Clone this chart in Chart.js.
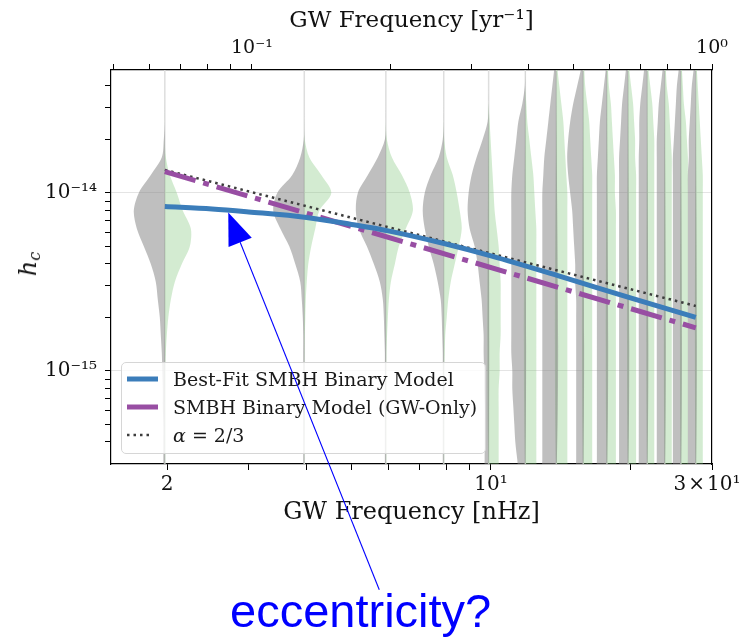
<!DOCTYPE html>
<html>
<head>
<meta charset="utf-8">
<title>Characteristic strain vs GW frequency</title>
<script src="https://cdn.jsdelivr.net/npm/chart.js@4.4.1/dist/chart.umd.min.js"></script>
<style>
  html, body { margin:0; padding:0; background:#fff; }
  #wrap { position:relative; width:739px; height:642px; overflow:hidden; background:#fff; }
  #chart { position:absolute; left:0; top:0; }
  #legend { position:absolute; left:121px; top:362px; width:365px; height:92px; box-sizing:border-box; border:1px solid #d6d6d6; border-radius:5px; background:rgba(255,255,255,0.8); }
  #legend .row { position:absolute; left:0; height:24px; line-height:24px; white-space:nowrap; font-family:'DejaVu Serif', serif; font-size:19px; color:#1a1a1a; }
  #legend svg { position:absolute; left:5px; top:7px; }
  #legend .lbl { position:absolute; left:51px; top:0; }
  #ytitle { position:absolute; left:29px; top:264px; transform: translate(-50%,-50%) rotate(-90deg); font-family:'DejaVu Serif', serif; font-style:italic; font-size:24px; color:#111; white-space:nowrap; }
  #ytitle sub { font-size:16px; vertical-align:-4px; }
  #annot { position:absolute; left:0; top:0; pointer-events:none; }
  #ecc { position:absolute; left:230px; top:587px; font-family:'Liberation Sans', Arial, sans-serif; font-size:47px; line-height:47px; color:#0000ff; white-space:nowrap; }
</style>
</head>
<body>
<div id="wrap">
  <canvas id="chart" width="739" height="642"></canvas>
  <div id="ytitle">h<sub>c</sub></div>
  <div id="legend"></div>
  <svg id="annot" width="739" height="642" xmlns="http://www.w3.org/2000/svg">
    <line id="arrowLine" stroke="#0000ff" stroke-width="1.1"/>
    <polygon id="arrowHead" fill="#0000ff"/>
  </svg>
  <div id="ecc">eccentricity?</div>
</div>
<script>
// ---------------- DATA ----------------
// GW frequency bins (nHz) at which the free-spectrum violins sit
const violinFreqs = [1.977, 3.954, 5.931, 7.908, 9.885, 11.862, 13.839, 15.816, 17.793, 19.770, 21.747, 23.724, 25.701, 27.678];

// log10(h_c) grid on which the violin densities are read
const logHcGrid = [-13.3, -13.4, -13.5, -13.6, -13.7, -13.8, -13.9, -14.0, -14.1, -14.2, -14.3, -14.4,
                   -14.5, -14.6, -14.7, -14.8, -14.9, -15.0, -15.1, -15.2, -15.3, -15.4, -15.5, -15.6];

// posterior density (arbitrary units) - grey (left) halves
const grayDensity = [
  [0,0,0,0,1,3,14,26,31,28,21,14,9,7,5,4,3,2.5,2,2,1.5,1.5,1.5,1.5],
  [0,0,0,0,0.5,4,12,27,31,24,15,9,4,2.5,1.5,1,1,1,1,1,1,1,1,1],
  [0,0,0,0,1,8,18,28,30,27,19,12,6,3,2,1.5,1,1,1,1,1,1,1,1],
  [0,0,0,0,1,5,13,19,21,19,15,10,6,3,2,1.5,1,1,1,1,1,1,1,1],
  [0,0,0,1,6,12,17,20,21,19,14,11,9,7,6,5,5,4.5,4.5,4,4,4,4,4],
  [0,0.5,3,7,9,11,13,14,14,14,14,14,14,14,14,14,14,13,13,12,11,10,8,6],
  [2,4,6,8,10,12,13,14,14,14,14,14,14,14,14,14,14,14,14,14,14,14,14,14],
  [2,6,10,13,15,16,15,13,11,10,9,8,8,7,7,7,7,7,7,7,7,7,7,7],
  [1,3,5,7,8,9,10,10,10,10,10,10,10,10,10,10,10,10,10,10,10,10,10,10],
  [2,4,6,7,8,9,9,9,9,9,9,9,9,9,9,9,9,9,9,9,9,9,9,9],
  [3,5,7,8,8,8.5,8.5,8.5,8.5,8.5,8.5,8.5,8.5,8.5,8.5,8.5,8.5,8.5,8.5,8.5,8.5,8.5,8.5,8.5],
  [2,4,6,7,8,8,8,8,8,8,8,8,8,8,8,8,8,8,8,8,8,8,8,8],
  [2,4,5,6,7,8,8,8,8,8,8,8,8,8,8,8,8,8,8,8,8,8,8,8],
  [2,4,5,6,7,7,8,8,8,8,8,8,8,8,8,8,8,8,8,8,8,8,8,8]
];
// posterior density (arbitrary units) - green (right) halves
const greenDensity = [
  [0,0,0,0,0,1,5,12,18,26,25,17,10,6,3.5,2,1,0.5,0.5,0.5,0.5,0.5,0.5,0.5],
  [0,0,0,0,0.5,5,17,27,15,11,7,4,2.5,1.5,1,0.6,0.4,0.3,0.3,0.3,0.3,0.3,0.3,0.3],
  [0,0,0,0,1,6,16,24,27,20,13,9,5,3,2,1.2,0.6,0.5,0.5,0.5,0.5,0.5,0.5,0.5],
  [0,0,0,0,0.5,3,9,13,16,18,15,11,7,4.5,3,1.5,1,0.5,0.5,0.5,0.5,0.5,0.5,0.5],
  [0,0,0,1,2,3,4,5,6,8,10,11,12,12,12,12,11,11,10,10,10,10,10,10],
  [0,0,1,2,4,6,8,9,10,11,11,11,11,11,11,11,11,11,11,11,11,11,11,11],
  [1,3,5,7,8,9,10,11,11,11,11,11,11,11,11,11,11,11,11,11,11,11,11,11],
  [1,2,4,6,7,8,9,9,9,9,9,9,9,9,9,9,9,9,9,9,9,9,9,9],
  [1,2,4,5,6,7,8,8,9,9,9,9,9,9,9,9,9,9,9,9,9,9,9,9],
  [1,3,5,6,7,7,8,8,8,8,8,8,8,8,8,8,8,8,8,8,8,8,8,8],
  [1,3,5,6,7,7,7,7,7,7,7,7,7,7,7,7,7,7,7,7,7,7,7,7],
  [1,2,4,5,6,7,7,7,7,7,7,7,7,7,7,7,7,7,7,7,7,7,7,7],
  [1,2,3,5,6,7,7,7,7,7,7,7,7,7,7,7,7,7,7,7,7,7,7,7],
  [1,2,3,4,5,6,7,7,7,7,7,7,7,7,7,7,7,7,7,7,7,7,7,7]
];

// Best-fit SMBH binary model
const fitFreqs = [1.977, 2.5, 3.0, 4.0, 5.0, 6.0, 8.0, 10.0, 14.0, 20.0, 27.678];
const fitHc    = [8.39e-15, 8.13e-15, 7.82e-15, 7.28e-15, 6.65e-15, 6.12e-15, 5.16e-15, 4.43e-15, 3.42e-15, 2.57e-15, 2.00e-15];
// SMBH binary model (GW-only)
const gwOnlyFreqs = [1.977, 27.678];
const gwOnlyHc    = [1.318e-14, 1.746e-15];
// alpha = 2/3 power law
const alphaFreqs = [1.977, 27.678];
const alphaHc    = [1.346e-14, 2.317e-15];

const seriesNames = ['Best-Fit SMBH Binary Model', 'SMBH Binary Model (GW-Only)', 'α = 2/3'];

// ticks
const xTickValues = [2, 3, 4, 5, 6, 7, 8, 9, 10, 20, 30];
const xTickLabels = { '2': '2', '10': '10¹', '30': '3\u200a×\u200a10¹\u2002' };
const topTickValues = [0.05, 0.06, 0.07, 0.08, 0.09, 0.1, 0.2, 0.3, 0.4, 0.5, 0.6, 0.7, 0.8, 0.9, 1];
const topTickLabels = { '0.1': '10⁻¹', '1': '10⁰' };
const yTickValues = [4e-16, 5e-16, 6e-16, 7e-16, 8e-16, 9e-16, 1e-15, 2e-15, 3e-15, 4e-15, 5e-15, 6e-15,
                     7e-15, 8e-15, 9e-15, 1e-14, 2e-14, 3e-14, 4e-14];
const yTickLabels = { '1e-15': '10⁻¹⁵', '1e-14': '10⁻¹⁴' };

// annotation arrow (data coordinates: nHz, h_c)
const arrowTip  = [2.71, 7.75e-15];
const arrowTail = [5.74, 5.9e-17];

// ---------------- STYLE ----------------
const X_MIN = 1.513, X_MAX = 30;
const TOP_MIN = 0.0494, TOP_MAX = 1.0;
const Y_MIN = 3.0e-16, Y_MAX = 4.9e-14;
const VIOLIN_SCALE = 0.00216;   // decades of frequency per density unit
const GRAY_FILL = 'rgba(128,128,128,0.5)';
const GREEN_FILL = 'rgba(120,195,115,0.33)';
const BLUE = '#3b7dba', PURPLE = '#984ea3', DOTGREY = '#3d3d3d';
const FONT = "'DejaVu Serif', serif";

Chart.defaults.font.family = FONT;
Chart.defaults.color = '#111';

function halfViolin(freq, dens, side) {
  const N = logHcGrid.length;
  const pts = [{ x: freq, y: Math.pow(10, logHcGrid[0]) }, { x: freq, y: Math.pow(10, logHcGrid[N - 1]) }];
  for (let k = N - 1; k >= 0; k--) {
    pts.push({ x: freq * Math.pow(10, side * dens[k] * VIOLIN_SCALE), y: Math.pow(10, logHcGrid[k]) });
  }
  return pts;
}

const datasets = [];
datasets.push({
  label: seriesNames[0], order: 0,
  data: fitFreqs.map((f, i) => ({ x: f, y: fitHc[i] })),
  showLine: true, borderColor: BLUE, borderWidth: 5, pointRadius: 0, fill: false,
  cubicInterpolationMode: 'monotone', borderCapStyle: 'butt'
});
datasets.push({
  label: seriesNames[1], order: 1,
  data: gwOnlyFreqs.map((f, i) => ({ x: f, y: gwOnlyHc[i] })),
  showLine: true, borderColor: PURPLE, borderWidth: 5, pointRadius: 0, fill: false,
  borderDash: [32, 8, 6, 8], borderCapStyle: 'butt'
});
datasets.push({
  label: seriesNames[2], order: 2,
  data: alphaFreqs.map((f, i) => ({ x: f, y: alphaHc[i] })),
  showLine: true, borderColor: DOTGREY, borderWidth: 2.5, pointRadius: 0, fill: false,
  borderDash: [2.5, 4], borderCapStyle: 'butt'
});
violinFreqs.forEach((f, i) => {
  datasets.push({
    label: 'free spectrum (grey) ' + f, order: 10 + i,
    data: halfViolin(f, grayDensity[i], -1),
    showLine: true, fill: 'shape', backgroundColor: GRAY_FILL, borderWidth: 0,
    borderColor: 'rgba(0,0,0,0)', pointRadius: 0, tension: 0.3
  });
  datasets.push({
    label: 'free spectrum (green) ' + f, order: 10 + i,
    data: halfViolin(f, greenDensity[i], 1),
    showLine: true, fill: 'shape', backgroundColor: GREEN_FILL, borderWidth: 0,
    borderColor: 'rgba(0,0,0,0)', pointRadius: 0, tension: 0.3
  });
});
// thin centre bars of the violins
const barData = [];
violinFreqs.forEach(f => {
  barData.push({ x: f, y: Y_MIN }, { x: f, y: Y_MAX }, { x: f, y: null });
});
datasets.push({
  label: 'violin bars', order: 50, data: barData, showLine: true, spanGaps: false,
  borderColor: '#dedede', borderWidth: 1.5, pointRadius: 0, fill: false
});

function noSidePad(s) { s.paddingLeft = 0; s.paddingRight = 0; }

const chart = new Chart(document.getElementById('chart'), {
  type: 'scatter',
  data: { datasets },
  options: {
    responsive: false, animation: false, devicePixelRatio: 1, events: [],
    layout: { padding: { left: 0, right: 27, top: 0, bottom: 114 } },
    plugins: { legend: { display: false }, tooltip: { enabled: false } },
    scales: {
      x: {
        type: 'logarithmic', position: 'bottom', min: X_MIN, max: X_MAX,
        afterBuildTicks: s => { s.ticks = xTickValues.map(v => ({ value: v })); },
        afterFit: s => { s.height = 64; noSidePad(s); },
        ticks: { autoSkip: false, maxRotation: 0, padding: 3, color: '#111', font: { size: 20 },
                 callback: v => xTickLabels[String(v)] || '' },
        grid: { drawOnChartArea: false, drawTicks: true, tickLength: 6, tickColor: '#000', tickWidth: 1 },
        border: { display: true, color: '#000', width: 1.2 },
        title: { display: true, text: 'GW Frequency [nHz]', color: '#111', font: { size: 24 }, padding: { top: 0, bottom: 1 } }
      },
      x2: {
        type: 'logarithmic', position: 'top', min: TOP_MIN, max: TOP_MAX,
        afterBuildTicks: s => { s.ticks = topTickValues.map(v => ({ value: v })); },
        afterFit: s => { s.height = 70; noSidePad(s); },
        ticks: { autoSkip: false, maxRotation: 0, padding: 5, color: '#111', font: { size: 19 },
                 callback: v => topTickLabels[String(v)] || '' },
        grid: { drawOnChartArea: false, drawTicks: true, tickLength: 6, tickColor: '#000', tickWidth: 1 },
        border: { display: true, color: '#000', width: 1.2 },
        title: { display: true, text: 'GW Frequency [yr⁻¹]', color: '#111', font: { size: 23 }, padding: { top: 7, bottom: 0 } }
      },
      y: {
        type: 'logarithmic', position: 'left', min: Y_MIN, max: Y_MAX,
        afterBuildTicks: s => { s.ticks = yTickValues.map(v => ({ value: v })); },
        afterFit: s => { s.width = 111; s.paddingTop = 0; s.paddingBottom = 0; },
        ticks: { autoSkip: false, padding: 8, color: '#111', font: { size: 20 },
                 callback: v => yTickLabels[String(v)] || '' },
        grid: {
          drawOnChartArea: true, drawTicks: true, tickLength: 6, tickColor: '#000', tickWidth: 1,
          color: c => (c.tick && yTickLabels[String(c.tick.value)]) ? '#e4e4e4' : 'rgba(0,0,0,0)',
          lineWidth: 1
        },
        border: { display: true, color: '#000', width: 1.2 },
        title: { display: false }
      },
      y2: {
        type: 'logarithmic', position: 'right', min: Y_MIN, max: Y_MAX,
        afterFit: s => { s.width = 0; s.paddingTop = 0; s.paddingBottom = 0; },
        ticks: { display: false },
        grid: { drawOnChartArea: false, drawTicks: false },
        border: { display: true, color: '#000', width: 1.2 }
      }
    }
  }
});

// ---------------- legend (HTML) ----------------
const legendStyles = [
  { color: BLUE, width: 5, dash: '' },
  { color: PURPLE, width: 5, dash: '32 8 6 8' },
  { color: DOTGREY, width: 2.5, dash: '2.5 4' }
];
const legendEl = document.getElementById('legend');
const rowTops = [4, 32, 60];
seriesNames.forEach((name, i) => {
  const st = legendStyles[i];
  const row = document.createElement('div');
  row.className = 'row';
  row.style.top = rowTops[i] + 'px';
  const len = i === 2 ? 26 : 31;
  row.innerHTML = '<svg width="34" height="10"><line x1="0" y1="5" x2="' + len + '" y2="5" stroke="' + st.color +
    '" stroke-width="' + st.width + '"' + (st.dash ? ' stroke-dasharray="' + st.dash + '"' : '') + '/></svg>';
  const lbl = document.createElement('span');
  lbl.className = 'lbl';
  if (i === 2) {
    lbl.innerHTML = '<i>α</i> = 2/3';
  } else {
    lbl.textContent = name;
  }
  row.appendChild(lbl);
  legendEl.appendChild(row);
});

// ---------------- annotation arrow, placed through the chart scales ----------------
(function () {
  const xs = chart.scales.x, ys = chart.scales.y;
  const tx = xs.getPixelForValue(arrowTip[0]), ty = ys.getPixelForValue(arrowTip[1]);
  const sx = xs.getPixelForValue(arrowTail[0]), sy = ys.getPixelForValue(arrowTail[1]);
  const dx = tx - sx, dy = ty - sy, L = Math.hypot(dx, dy);
  const ux = dx / L, uy = dy / L;
  const headLen = 32, headHalf = 12.5;
  const bx = tx - ux * headLen, by = ty - uy * headLen;
  const px = -uy, py = ux;
  const line = document.getElementById('arrowLine');
  line.setAttribute('x1', sx); line.setAttribute('y1', sy);
  line.setAttribute('x2', bx); line.setAttribute('y2', by);
  document.getElementById('arrowHead').setAttribute('points',
    tx + ',' + ty + ' ' + (bx + px * headHalf) + ',' + (by + py * headHalf) + ' ' + (bx - px * headHalf) + ',' + (by - py * headHalf));
})();
</script>
</body>
</html>
